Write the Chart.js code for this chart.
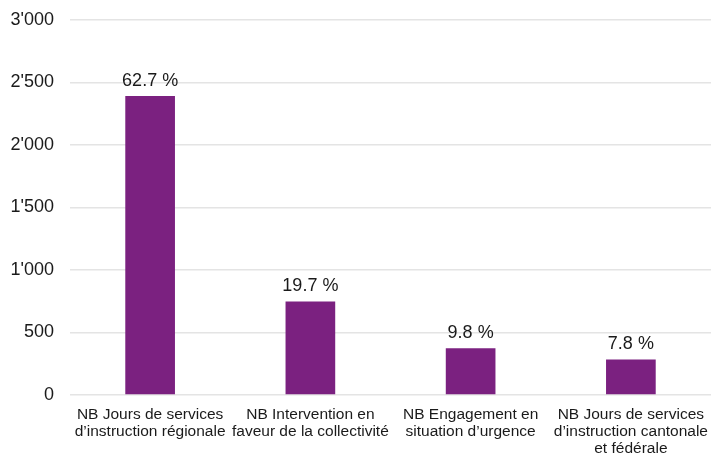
<!DOCTYPE html>
<html>
<head>
<meta charset="utf-8">
<script src="https://cdn.jsdelivr.net/npm/chart.js@4/dist/chart.umd.min.js"></script>
<style>
  html, body { margin: 0; padding: 0; background: #fff; }
  #wrap { width: 711px; height: 455px; }
</style>
</head>
<body>
<div id="wrap"><canvas id="chart"></canvas></div>
<script>
// Chart data
const categories = [
  ['NB Jours de services', 'd\u2019instruction régionale'],
  ['NB Intervention en', 'faveur de la collectivité'],
  ['NB Engagement en', 'situation d\u2019urgence'],
  ['NB Jours de services', 'd\u2019instruction cantonale', 'et fédérale']
];
const values = [2393, 748, 374, 284];
const shareLabels = ['62.7 %', '19.7 %', '9.8 %', '7.8 %'];
const yTicks = [0, 500, 1000, 1500, 2000, 2500, 3000];

const barColor = '#7b2180';
const textColor = '#1a1a1a';

// Swiss style thousands separator
function formatNumber(v) {
  return v.toString().replace(/\B(?=(\d{3})+(?!\d))/g, "'");
}

// Draw the share labels above each bar
const shareLabelPlugin = {
  id: 'shareLabels',
  afterDatasetsDraw(chart) {
    const ctx = chart.ctx;
    const meta = chart.getDatasetMeta(0);
    ctx.save();
    ctx.font = '18px "Liberation Sans", Arial, sans-serif';
    ctx.fillStyle = textColor;
    ctx.textAlign = 'center';
    ctx.textBaseline = 'bottom';
    meta.data.forEach((bar, i) => {
      ctx.fillText(shareLabels[i], bar.x, bar.y - 6);
    });
    ctx.restore();
  }
};

const ctx = document.getElementById('chart').getContext('2d');
new Chart(ctx, {
  type: 'bar',
  data: {
    labels: categories,
    datasets: [{
      data: values,
      backgroundColor: barColor,
      barPercentage: 0.31,
      categoryPercentage: 1
    }]
  },
  options: {
    responsive: true,
    maintainAspectRatio: false,
    animation: false,
    layout: { padding: { top: 20, left: 0, right: 0, bottom: 0 } },
    plugins: {
      legend: { display: false },
      tooltip: { enabled: false }
    },
    scales: {
      x: {
        grid: { display: false },
        border: { display: false },
        afterFit(axis) {
          // labels may overflow the edges, like in the original
          axis.paddingLeft = 0;
          axis.paddingRight = 0;
          axis.height = 60;
        },
        ticks: {
          color: textColor,
          padding: 3,
          maxRotation: 0,
          autoSkip: false,
          font: { family: '"Liberation Sans", Arial, sans-serif', size: 15.5, lineHeight: 1.1 }
        }
      },
      y: {
        min: 0,
        max: 3000,
        afterBuildTicks(axis) {
          axis.ticks = yTicks.map(v => ({ value: v }));
        },
        afterFit(axis) {
          axis.width = 70;
          axis.paddingTop = 0;
          axis.paddingBottom = 0;
        },
        grid: { color: '#e4e4e4', lineWidth: 1.5, drawTicks: false },
        border: { display: false },
        ticks: {
          color: textColor,
          padding: 16,
          font: { family: '"Liberation Sans", Arial, sans-serif', size: 18 },
          callback: (v) => formatNumber(v)
        }
      }
    }
  },
  plugins: [shareLabelPlugin]
});
</script>
</body>
</html>
